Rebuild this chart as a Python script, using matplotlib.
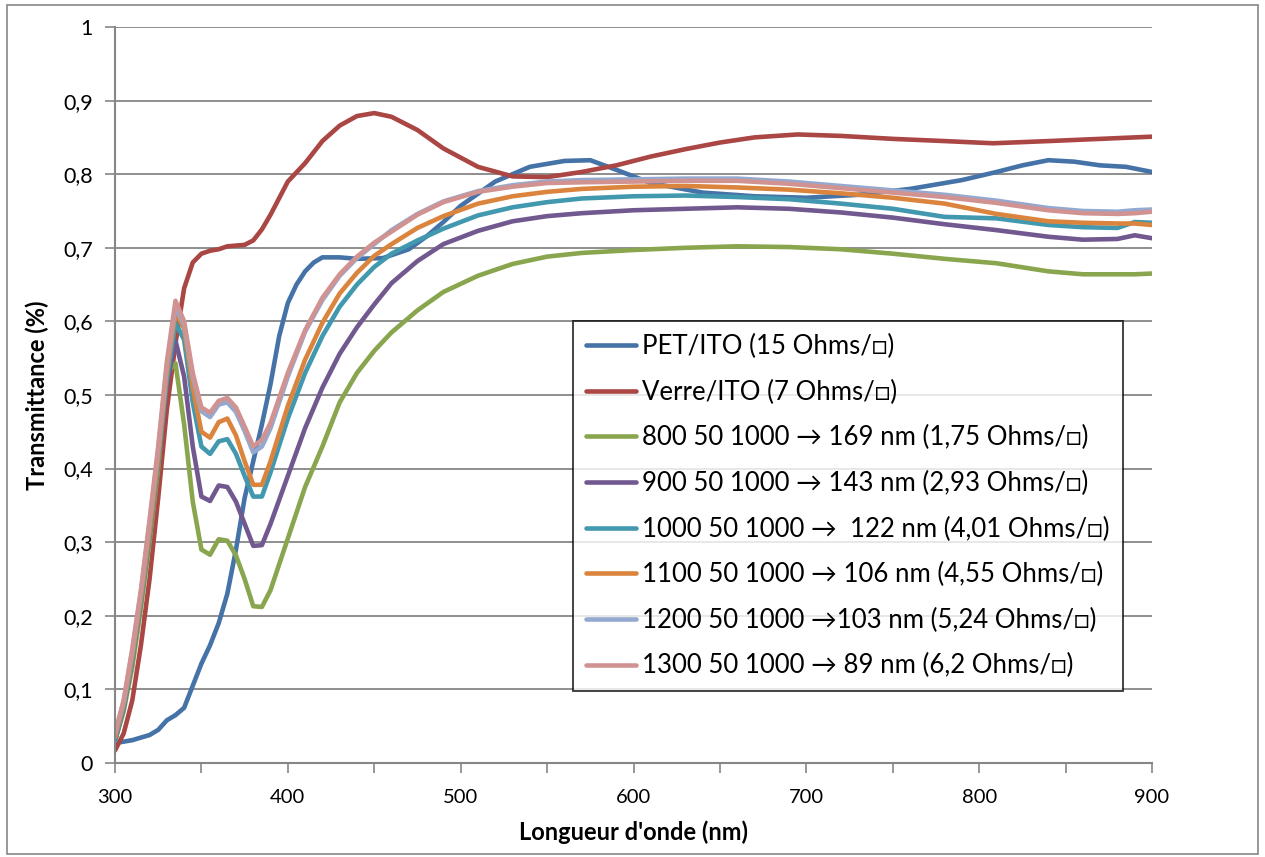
import matplotlib
matplotlib.use('Agg')
import matplotlib.pyplot as plt
from matplotlib.patches import Rectangle
from matplotlib.ticker import FuncFormatter

plt.rcParams['font.family'] = ['Lato', 'DejaVu Sans']

# wavelength grid (nm) shared by the deposited samples
wl = [300, 305, 310, 315, 320, 325, 330, 335, 340, 345, 350, 355, 360, 365,
      370, 375, 380, 385, 390, 400, 410, 420, 430, 440, 450, 460, 475, 490,
      510, 530, 550, 570, 600, 630, 660, 690, 720, 750, 780, 810, 840, 860,
      880, 890, 900]

s800 = [0.03, 0.07, 0.13, 0.21, 0.30, 0.40, 0.53, 0.543, 0.46, 0.355, 0.29,
        0.283, 0.304, 0.302, 0.282, 0.25, 0.213, 0.212, 0.235, 0.305, 0.375,
        0.43, 0.49, 0.53, 0.56, 0.585, 0.615, 0.64, 0.662, 0.678, 0.688,
        0.693, 0.697, 0.70, 0.702, 0.701, 0.698, 0.692, 0.685, 0.679, 0.668,
        0.664, 0.664, 0.664, 0.665]
s900 = [0.03, 0.075, 0.14, 0.22, 0.31, 0.41, 0.515, 0.574, 0.525, 0.43, 0.362,
        0.356, 0.377, 0.375, 0.355, 0.325, 0.295, 0.296, 0.325, 0.39, 0.455,
        0.51, 0.556, 0.592, 0.623, 0.652, 0.682, 0.705, 0.723, 0.736, 0.743,
        0.747, 0.751, 0.753, 0.755, 0.753, 0.748, 0.741, 0.732, 0.724, 0.715,
        0.711, 0.712, 0.717, 0.713]
s1000 = [0.03, 0.075, 0.14, 0.22, 0.31, 0.41, 0.52, 0.598, 0.575, 0.49, 0.43,
         0.42, 0.437, 0.44, 0.42, 0.39, 0.362, 0.362, 0.395, 0.468, 0.53,
         0.58, 0.62, 0.65, 0.674, 0.692, 0.71, 0.726, 0.744, 0.755, 0.762,
         0.767, 0.77, 0.771, 0.769, 0.766, 0.76, 0.753, 0.742, 0.74, 0.731,
         0.728, 0.727, 0.735, 0.734]
s1100 = [0.035, 0.08, 0.145, 0.225, 0.315, 0.415, 0.53, 0.612, 0.59, 0.51,
         0.45, 0.442, 0.463, 0.468, 0.445, 0.41, 0.378, 0.378, 0.41, 0.485,
         0.548, 0.598, 0.638, 0.666, 0.689, 0.705, 0.727, 0.743, 0.76, 0.77,
         0.776, 0.78, 0.783, 0.784, 0.782, 0.779, 0.774, 0.768, 0.76, 0.746,
         0.736, 0.734, 0.733, 0.733, 0.731]
s1200 = [0.04, 0.083, 0.152, 0.232, 0.326, 0.425, 0.54, 0.62, 0.595, 0.525,
         0.478, 0.47, 0.487, 0.49, 0.477, 0.451, 0.422, 0.43, 0.455, 0.525,
         0.586, 0.629, 0.662, 0.686, 0.705, 0.724, 0.746, 0.763, 0.777, 0.785,
         0.79, 0.792, 0.793, 0.794, 0.794, 0.79, 0.784, 0.778, 0.772, 0.764,
         0.754, 0.75, 0.749, 0.751, 0.752]
s1300 = [0.04, 0.085, 0.155, 0.235, 0.33, 0.43, 0.545, 0.628, 0.6, 0.53,
         0.483, 0.476, 0.492, 0.496, 0.483, 0.457, 0.43, 0.439, 0.462, 0.53,
         0.588, 0.632, 0.664, 0.688, 0.707, 0.722, 0.745, 0.762, 0.776, 0.783,
         0.788, 0.789, 0.79, 0.791, 0.791, 0.787, 0.781, 0.775, 0.769, 0.761,
         0.751, 0.747, 0.746, 0.747, 0.749]

wl_pet = [300, 310, 320, 325, 330, 335, 340, 345, 350, 355, 360, 365, 370,
          375, 380, 385, 390, 395, 400, 405, 410, 415, 420, 430, 440, 455,
          470, 480, 490, 500, 520, 540, 560, 575, 590, 610, 640, 670, 700,
          730, 760, 790, 810, 825, 840, 855, 870, 885, 900]
pet = [0.027, 0.031, 0.038, 0.045, 0.058, 0.065, 0.075, 0.105, 0.135, 0.16,
       0.19, 0.23, 0.29, 0.36, 0.41, 0.46, 0.515, 0.58, 0.625, 0.65, 0.668,
       0.68, 0.687, 0.687, 0.685, 0.686, 0.698, 0.715, 0.735, 0.757, 0.79,
       0.81, 0.818, 0.819, 0.806, 0.788, 0.775, 0.77, 0.768, 0.772, 0.78,
       0.792, 0.803, 0.812, 0.819, 0.817, 0.812, 0.81, 0.803]

wl_verre = [300, 305, 310, 315, 320, 325, 330, 335, 340, 345, 350, 355, 360,
            365, 370, 375, 380, 385, 390, 400, 410, 420, 430, 440, 450, 460,
            475, 490, 510, 530, 550, 570, 590, 610, 630, 650, 670, 695, 720,
            750, 780, 808, 840, 870, 900]
verre = [0.017, 0.04, 0.085, 0.16, 0.25, 0.36, 0.48, 0.57, 0.645, 0.68, 0.692,
         0.696, 0.698, 0.702, 0.703, 0.704, 0.71, 0.725, 0.745, 0.79, 0.815,
         0.845, 0.866, 0.879, 0.883, 0.878, 0.86, 0.835, 0.81, 0.797, 0.796,
         0.803, 0.812, 0.824, 0.834, 0.843, 0.85, 0.854, 0.852, 0.848, 0.845,
         0.842, 0.845, 0.848, 0.851]

labels = ['PET/ITO (15 Ohms/□)',
          'Verre/ITO (7 Ohms/□)',
          '800 50 1000 → 169 nm (1,75 Ohms/□)',
          '900 50 1000 → 143 nm (2,93 Ohms/□)',
          '1000 50 1000 →  122 nm (4,01 Ohms/□)',
          '1100 50 1000 → 106 nm (4,55 Ohms/□)',
          '1200 50 1000 →103 nm (5,24 Ohms/□)',
          '1300 50 1000 → 89 nm (6,2 Ohms/□)']
colors = ['#4572A7', '#AA4643', '#89A54E', '#71588F',
          '#4198AF', '#DB843D', '#93A9CF', '#D19392']

series = [(wl_pet, pet), (wl_verre, verre), (wl, s800), (wl, s900),
          (wl, s1000), (wl, s1100), (wl, s1200), (wl, s1300)]

fig = plt.figure(figsize=(12.65, 8.57), dpi=100)
ax = fig.add_axes([0.0909, 0.1097, 0.8198, 0.8588])

for (x, y), lab, c in zip(series, labels, colors):
    ax.plot(x, y, color=c, lw=3.3, label=lab, solid_capstyle='round',
            solid_joinstyle='round')

ax.set_xlim(300, 900)
ax.set_ylim(0, 1)
ax.set_xticks(range(300, 901, 50))
ax.xaxis.set_major_formatter(
    FuncFormatter(lambda v, p: '%d' % v if v % 100 == 0 else ''))
ax.set_yticks([i / 10 for i in range(11)])
ax.yaxis.set_major_formatter(
    FuncFormatter(lambda v, p: '0' if v == 0 else ('1' if v == 1 else
                                                   ('%.1f' % v).replace('.', ','))))
ax.tick_params(axis='both', direction='out', length=7, width=1.2,
               color='#868686')
ax.tick_params(axis='y', labelsize=15.5, pad=9)
ax.tick_params(axis='x', labelsize=14.5, pad=12)
ax.grid(axis='y', color='#868686', lw=1.3)
ax.set_axisbelow(True)
for s in ['top', 'right']:
    ax.spines[s].set_visible(False)
for s in ['left', 'bottom']:
    ax.spines[s].set_color('#868686')
    ax.spines[s].set_linewidth(1.5)

ax.set_xlabel("Longueur d'onde (nm)", fontsize=17, fontweight='bold',
              labelpad=10)
ax.set_ylabel('Transmittance (%)', fontsize=17, fontweight='bold',
              labelpad=10)

leg = ax.legend(loc='upper left', bbox_to_anchor=(0.4417, 0.6005),
                borderaxespad=0, fontsize=18.5, frameon=True, fancybox=False,
                edgecolor='black', handlelength=1.95, handletextpad=0.25,
                labelspacing=0.8, borderpad=0.5)
leg.get_frame().set_linewidth(1.3)
for ln in leg.get_lines():
    ln.set_linewidth(3.3)

# outer chart frame
fig.patches.append(Rectangle((0.0055, 0.004), 0.989, 0.99, transform=fig.transFigure,
                             fill=False, edgecolor='#868686', lw=1.2))

fig.savefig('out.png', dpi=100)
